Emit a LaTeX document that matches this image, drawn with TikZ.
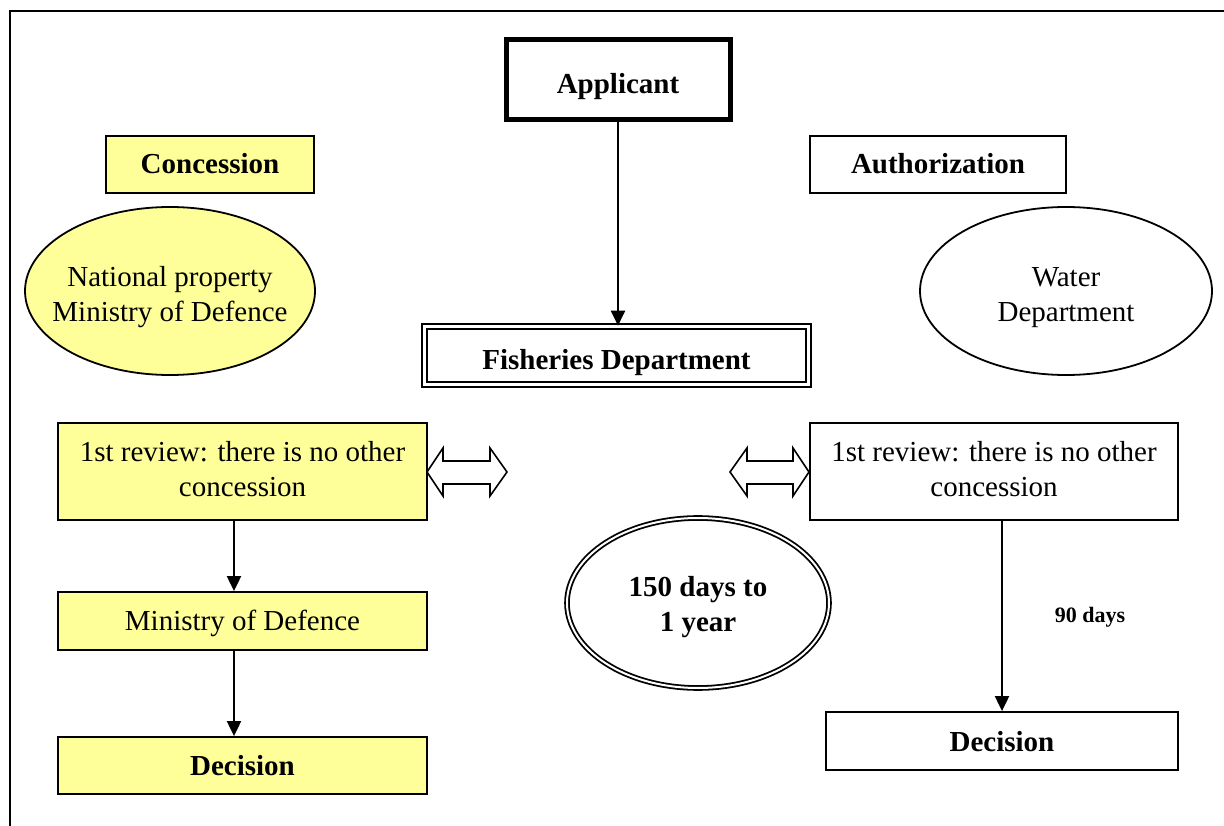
\documentclass[tikz,border=0pt]{standalone}
\usepackage{fontspec}
\setmainfont{Liberation Serif}
\usetikzlibrary{arrows.meta,shapes.geometric}
\definecolor{lightyel}{RGB}{255,255,153}
\tikzset{
  base/.style={draw=black, line width=1.8pt, inner sep=0pt, align=center,
     font=\fontsize{29}{35}\selectfont},
  boldf/.style={font=\fontsize{29}{35}\selectfont\bfseries},
  yelbox/.style={base, rectangle, fill=lightyel},
  whitebox/.style={base, rectangle, fill=white},
  plaintext/.style={inner sep=0pt, align=center, font=\fontsize{29}{35}\selectfont},
  conn/.style={line width=2pt, -{Triangle[length=15pt,width=14pt]}},
  dblarrow/.style={draw=black, line width=1.6pt, fill=white, line join=miter},
}
\begin{document}
\begin{tikzpicture}[x=1pt,y=-1pt]
\useasboundingbox (0,0) rectangle (1224,826);
% outer frame
\draw[line width=2pt] (1224,11) -- (10,11) -- (10,826);

\node[whitebox, boldf, line width=5pt, minimum width=224pt, minimum height=80pt, text height=27pt, text depth=0pt] (app) at (618,80) {Applicant};

\node[yelbox, boldf, minimum width=208pt, minimum height=57pt, text height=18pt, text depth=0pt] (conc) at (210,164.5) {Concession};
\node[whitebox, boldf, minimum width=256pt, minimum height=57pt, text height=18pt, text depth=0pt] (auth) at (938,164.5) {Authorization};

\node[base, ellipse, fill=lightyel, minimum width=290pt, minimum height=168pt] (natp) at (170,291) {};
\node[plaintext] (natpt) at (170,297.5) {National property\\Ministry of Defence};
\node[base, ellipse, fill=white, minimum width=292pt, minimum height=168pt] (water) at (1066,291) {};
\node[plaintext] (watert) at (1066,298) {Water\\Department};

\node[whitebox, boldf, double, double distance=3pt, line width=1.6pt, minimum width=384pt, minimum height=58pt, text height=28pt, text depth=0pt] (fish) at (616.5,355.5) {Fisheries Department};

\node[yelbox, minimum width=369pt, minimum height=97pt] (revL) at (242.5,471.5) {};
\node[plaintext] (revLt) at (242.5,469.5) {1st review: there is no other\\concession};
\node[whitebox, minimum width=368pt, minimum height=97pt] (revR) at (994,471.5) {};
\node[plaintext] (revRt) at (994,469.5) {1st review: there is no other\\concession};

\node[base, ellipse, double, double distance=2pt, fill=white, minimum width=262pt, minimum height=170pt] (days) at (698,603) {};
\node[plaintext, boldf] (dayst) at (698,607) {150 days to\\1 year};

\node[yelbox, minimum width=369pt, minimum height=58pt, text height=19pt, text depth=0pt] (mod) at (242.5,621) {Ministry of Defence};
\node[yelbox, boldf, minimum width=369pt, minimum height=57pt, text height=20pt, text depth=0pt] (decL) at (242.5,765.5) {Decision};
\node[whitebox, boldf, minimum width=352pt, minimum height=58pt, text height=21pt, text depth=0pt] (decR) at (1002,741) {Decision};

\node[inner sep=0pt, font=\fontsize{22}{26}\selectfont\bfseries] (ninety) at (1090,617) {90 days};

% connectors
\draw[conn] (app.south) -- (app.south |- fish.north);
\draw[conn] ([xshift=-8.5pt]revL.south) -- ([xshift=-8.5pt]mod.north);
\draw[conn] ([xshift=-8.5pt]mod.south) -- ([xshift=-8.5pt]decL.north);
\draw[conn] (revR.south -| decR.north) -- (decR.north);

% double arrows
\draw[dblarrow] (427,472) -- (443,448) -- (443,461) -- (490,461) -- (490,448) -- (507,472)
  -- (490,496) -- (490,484) -- (443,484) -- (443,496) -- cycle;
\draw[dblarrow] (730,472) -- (747,448) -- (747,461) -- (793,461) -- (793,448) -- (809,472)
  -- (793,496) -- (793,484) -- (747,484) -- (747,496) -- cycle;
\end{tikzpicture}
\end{document}
